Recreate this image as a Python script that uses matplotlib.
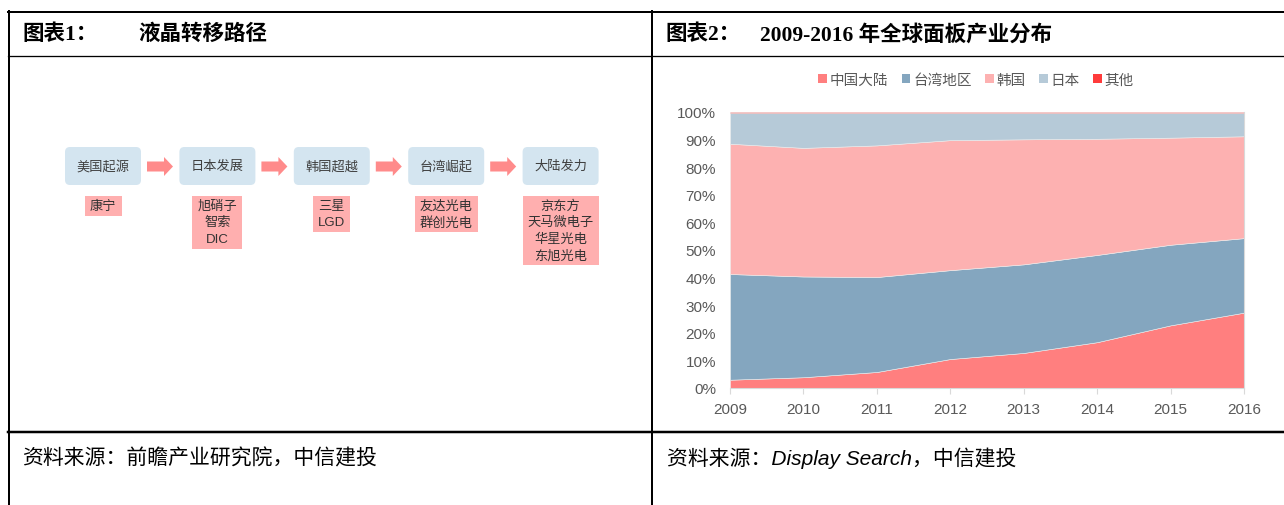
import numpy as np
import matplotlib.pyplot as plt
from matplotlib.patches import Rectangle, FancyBboxPatch, FancyArrow, Patch

plt.rcParams['font.family'] = ['Liberation Sans', 'Noto Sans CJK SC', 'DejaVu Sans']

# chart 1: flow of the LCD industry
stages = ['美国起源', '日本发展', '韩国超越', '台湾崛起', '大陆发力']
companies = [['康宁'],
             ['旭硝子', '智索', 'DIC'],
             ['三星', 'LGD'],
             ['友达光电', '群创光电'],
             ['京东方', '天马微电子', '华星光电', '东旭光电']]

# chart 2: global panel share (%)
years = [2009, 2010, 2011, 2012, 2013, 2014, 2015, 2016]
china = [3.0, 3.9, 5.8, 10.5, 12.7, 16.6, 22.7, 27.3]
taiwan = [38.3, 36.5, 34.4, 32.2, 32.1, 31.6, 29.2, 27.0]
korea = [47.2, 46.6, 47.7, 47.1, 45.3, 42.1, 38.8, 36.9]
japan = [11.3, 12.8, 11.9, 10.0, 9.7, 9.5, 9.1, 8.6]
others = [0.2, 0.2, 0.2, 0.2, 0.2, 0.2, 0.2, 0.2]
names = ['中国大陆', '台湾地区', '韩国', '日本', '其他']
colors = ['#FF7F7F', '#84A6BF', '#FDB1B1', '#B6CAD8', '#FF3B3B']

fig = plt.figure(figsize=(12.84, 5.06), dpi=100)
bg = fig.add_axes([0, 0, 1, 1])
bg.set_xlim(0, 1284)
bg.set_ylim(506, 0)
bg.axis('off')

# table frame (pixel coords)
k = 0.72
bg.plot([8, 1284], [13, 13], color='black', lw=2 * k)
bg.plot([8, 1284], [57, 57], color='black', lw=1.3 * k)
bg.plot([8, 1284], [433, 433], color='black', lw=2.5 * k)
bg.plot([9, 9], [12, 506], color='black', lw=2 * k)
bg.plot([652, 652], [12, 506], color='black', lw=2 * k)

title_font = ['Liberation Serif', 'Noto Sans CJK SC']
bg.text(22, 35, '图表1：', family=title_font, weight='bold', fontsize=15.5, va='center')
bg.text(138, 35, '液晶转移路径', family=title_font, weight='bold', fontsize=15.5, va='center')
bg.text(665, 35, '图表2：', family=title_font, weight='bold', fontsize=15.5, va='center')
bg.text(760, 35, '2009-2016 年全球面板产业分布', family=title_font, weight='bold',
        fontsize=15.5, va='center')

foot_font = ['Liberation Sans', 'Noto Sans CJK SC']
bg.text(22, 458, '资料来源：前瞻产业研究院，中信建投', family=foot_font, style='italic',
        fontsize=15, va='center')
bg.text(667, 458, '资料来源：Display Search，中信建投', family=foot_font, style='italic',
        fontsize=15, va='center')

# flowchart
step = 114.4
for i, (st, comp) in enumerate(zip(stages, companies)):
    cx = 103 + i * step
    r = 5
    bg.add_patch(FancyBboxPatch((cx - 38 + r, 148 + r), 76 - 2 * r, 38 - 2 * r,
                                boxstyle='round,pad=%d' % r, fc='#D4E5F0', ec='none'))
    bg.text(cx, 167, st, ha='center', va='center', fontsize=9.5, color='#404040')
    if i < len(stages) - 1:
        bg.add_patch(FancyArrow(cx + 44, 167.5, 26, 0, width=10, head_width=19,
                                head_length=9, length_includes_head=True,
                                fc='#FF8B8B', ec='none'))
    wmax = max(sum(1.0 if ord(c) > 127 else 0.6 for c in s) for s in comp)
    w = wmax * 13 + 11
    h = len(comp) * 16.5 + 3
    bg.add_patch(Rectangle((cx - w / 2, 197), w, h, fc='#FFAFAF', ec='none'))
    for j, s in enumerate(comp):
        bg.text(cx, 197 + 1.5 + (j + 0.5) * 16.5, s, ha='center', va='center',
                fontsize=9.5, color='#333333')

# stacked area chart
ax = fig.add_axes([730 / 1284, 1 - 389 / 506, 514 / 1284, 276 / 506])
ax.stackplot(years, china, taiwan, korea, japan, others, colors=colors,
             edgecolor='#EDEDED', lw=0.4)
ax.set_xlim(2009, 2016)
ax.set_ylim(0, 100)
ax.set_xticks(years)
ax.set_yticks(np.arange(0, 101, 10))
ax.set_yticklabels(['%d%%' % v for v in range(0, 101, 10)])
for s in ['left', 'top']:
    ax.spines[s].set_visible(False)
for s in ['bottom', 'right']:
    ax.spines[s].set_color('#D9D9D9')
ax.tick_params(axis='x', colors='#595959', labelsize=11, length=4, color='#D9D9D9', pad=6)
ax.tick_params(axis='y', colors='#595959', labelsize=11, length=0, pad=10)

handles = [Patch(fc=c, ec='none') for c in colors]
fig.legend(handles, names, loc='center', bbox_to_anchor=(976 / 1284, 1 - 81 / 506),
           ncol=5, frameon=False, handlelength=0.6, handleheight=0.6,
           handletextpad=0.2, columnspacing=0.9, fontsize=10.5, labelcolor='#595959')

fig.savefig('out.png', dpi=100)
